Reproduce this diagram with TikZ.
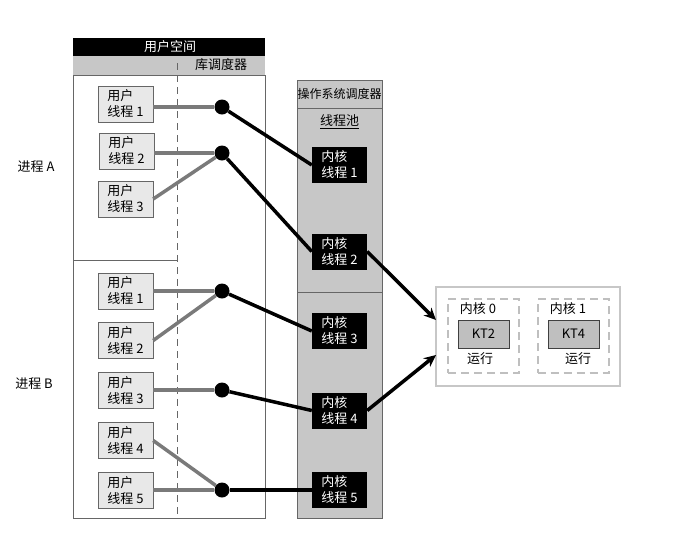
\documentclass[tikz,border=0pt]{standalone}
\usepackage{fontspec}
\newfontfamily\cjk{Noto Sans CJK SC}
\usetikzlibrary{arrows.meta}
\begin{document}
\begin{tikzpicture}[x=1pt,y=-1pt,
    every node/.style={font=\cjk\fontsize{13}{16}\selectfont},
    uthread/.style={draw=black!60,fill=black!9,minimum width=55pt,minimum height=36pt,align=left,inner sep=1pt},
    kthread/.style={fill=black,text=white,minimum width=55pt,minimum height=36pt,align=left,inner sep=1pt},
    dot/.style={circle,fill=black,inner sep=0pt,minimum size=15pt},
    uline/.style={draw=black!52,line width=3.5pt},
    kline/.style={draw=black,line width=3.5pt},
    toproc/.style={kline,-{Stealth[length=12pt,width=11pt]}},
    corebox/.style={draw=black!25,line width=2pt,dash pattern=on 8pt off 5pt,minimum width=71pt,minimum height=74pt},
    ktbox/.style={draw=black!75,fill=black!25,minimum width=51pt,minimum height=28pt}]
  \useasboundingbox (0,0) rectangle (677,550);
  % user space
  \fill[black] (73,38) rectangle (265,56);
  \fill[black!22] (73,56) rectangle (265,75);
  \node[text=white] (us) at (170,47) {用户空间};
  \node (ls) at (221,65) {库调度器};
  \draw[black!60] (73,75) rectangle (265,518);
  \draw[black!60] (73,260) -- (177,260);
  \draw[black!60,line width=1pt,dash pattern=on 7pt off 5pt] (177,63) -- (177,518);
  % os scheduler
  \draw[black!60,fill=black!22] (297,80) rectangle (382,518);
  \draw[black!60] (297,108) -- (382,108);
  \draw[black!60] (297,292) -- (382,292);
  \node[font=\cjk\fontsize{12}{14}\selectfont] (os) at (339.5,94) {操作系统调度器};
  \node (pool) at (339.5,122) {\underline{线程池}};
  \node (pa) at (36,167) {进程 A};
  \node (pb) at (34,384) {进程 B};
  % user threads
  \node[uthread] (ua1) at (125.5,104) {用户\\线程 1};
  \node[uthread] (ua2) at (126.5,151) {用户\\线程 2};
  \node[uthread] (ua3) at (125.5,199) {用户\\线程 3};
  \node[uthread] (ub1) at (125.5,291) {用户\\线程 1};
  \node[uthread] (ub2) at (125.5,340.5) {用户\\线程 2};
  \node[uthread] (ub3) at (125.5,390.5) {用户\\线程 3};
  \node[uthread] (ub4) at (125.5,440.5) {用户\\线程 4};
  \node[uthread] (ub5) at (125.5,490.5) {用户\\线程 5};
  % kernel threads
  \node[kthread] (k1) at (339.5,165) {内核\\线程 1};
  \node[kthread] (k2) at (339.5,251.5) {内核\\线程 2};
  \node[kthread] (k3) at (339.5,331) {内核\\线程 3};
  \node[kthread] (k4) at (339.5,410.5) {内核\\线程 4};
  \node[kthread] (k5) at (339.5,490) {内核\\线程 5};
  % processors
  \node[draw=black!22,line width=2.5pt,minimum width=184pt,minimum height=99pt] (cpu) at (528,336.5) {};
  \node[corebox] (c0) at (483.5,336) {};
  \node[corebox] (c1) at (573,336) {};
  \node[ktbox] (kt2) at (483.5,334) {KT2};
  \node[ktbox] (kt4) at (573.5,334) {KT4};
  \node (n0) at (478,309) {内核 0};
  \node (n1) at (568,309) {内核 1};
  \node (r0) at (480,359) {运行};
  \node (r1) at (578,359) {运行};
  \coordinate (in0) at (436,320);
  \coordinate (in1) at (436,355);
  % dots
  \node[dot] (d1) at (222,107) {};
  \node[dot] (d2) at (222,153) {};
  \node[dot] (d3) at (222,291) {};
  \node[dot] (d4) at (222,390) {};
  \node[dot] (d5) at (222,490) {};
  \begin{scope}
    \draw[uline] (ua1.east |- d1) -- (d1);
    \draw[uline] (ua2.east |- d2) -- (d2);
    \draw[uline] (ua3.east) -- (d2);
    \draw[uline] (ub1.east |- d3) -- (d3);
    \draw[uline] (ub2.east) -- (d3);
    \draw[uline] (ub3.east |- d4) -- (d4);
    \draw[uline] (ub4.east) -- (d5);
    \draw[uline] (ub5.east |- d5) -- (d5);
    \draw[kline] (d1) -- (k1.west);
    \draw[kline] (d2) -- (k2.west);
    \draw[kline] (d3) -- (k3.west);
    \draw[kline] (d4) -- (k4.west);
    \draw[kline] (d5) -- (k5.west);
    \draw[toproc] (k2.east) -- (in0);
    \draw[toproc] (k4.east) -- (in1);
  \end{scope}
\end{tikzpicture}
\end{document}
